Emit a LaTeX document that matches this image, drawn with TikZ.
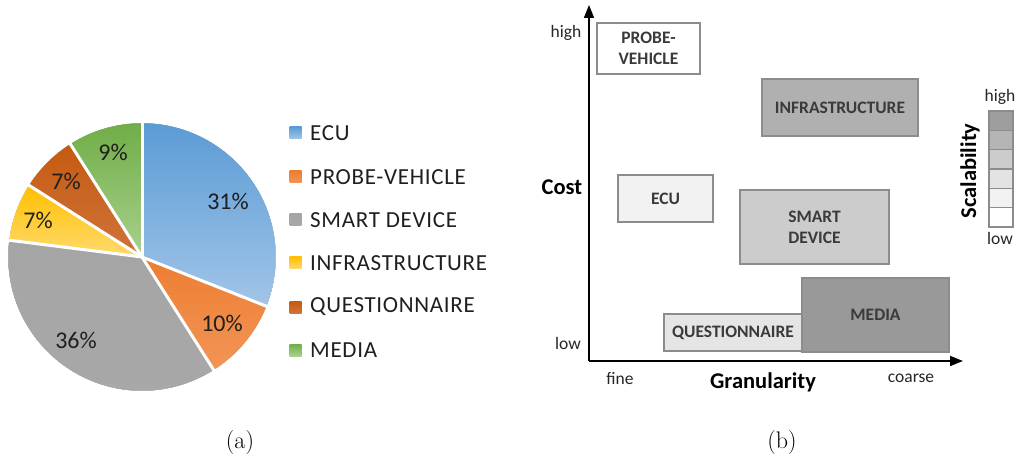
\documentclass[tikz,border=0pt]{standalone}
\usepackage{fontspec}
\newfontfamily\carfont{Carlito}
\usetikzlibrary{arrows.meta,positioning}
\definecolor{ecuA}{HTML}{5B9BD5}\definecolor{ecuB}{HTML}{A2C5E8}
\definecolor{prbA}{HTML}{ED7D31}\definecolor{prbB}{HTML}{F29557}
\definecolor{smtA}{HTML}{A5A5A5}\definecolor{smtB}{HTML}{A8A8A8}
\definecolor{infA}{HTML}{FFC000}\definecolor{infB}{HTML}{FFDA6E}
\definecolor{qstA}{HTML}{C55A11}\definecolor{qstB}{HTML}{D0743A}
\definecolor{medA}{HTML}{70AD47}\definecolor{medB}{HTML}{A9D18E}
\definecolor{boxline}{HTML}{8C8C8C}
\definecolor{boxtext}{HTML}{3A3A3A}
\tikzset{
  slice/.style={draw=white, line width=3pt, line join=round},
  pct/.style={font=\carfont\fontsize{24}{26}\selectfont, text=black!88},
  legtext/.style={font=\carfont\addfontfeature{LetterSpace=3}\fontsize{23}{26}\selectfont, text=black!88, anchor=west, inner sep=0pt},
  legbox/.style={minimum size=12pt, inner sep=0pt},
  cbox/.style={draw=boxline, line width=1.8pt, inner sep=0pt, align=center,
    font=\carfont\bfseries\fontsize{17.5}{21}\selectfont, text=boxtext},
  axlbl/.style={font=\carfont\fontsize{17.5}{20}\selectfont, text=black!85},
  axtitle/.style={font=\carfont\bfseries\fontsize{22.5}{24}\selectfont, text=black},
  scell/.style={draw=boxline, line width=1.3pt, minimum width=24pt, minimum height=19.33pt, inner sep=0pt, outer sep=0pt},
  captxt/.style={font=\fontsize{24}{28}\selectfont}
}
\begin{document}
\begin{tikzpicture}[x=1pt,y=1pt]
\useasboundingbox (0,0) rectangle (1015,-465);
% ---------- pie ----------
\coordinate (pc) at (142,-257);
\def\R{134}
\fill[top color=ecuA,bottom color=ecuB] (pc) -- ++(90:\R) arc[start angle=90,end angle=-21.6,radius=\R] -- cycle;
\fill[top color=prbA,bottom color=prbB] (pc) -- ++(-21.6:\R) arc[start angle=-21.6,end angle=-57.6,radius=\R] -- cycle;
\fill[top color=smtA,bottom color=smtB] (pc) -- ++(-57.6:\R) arc[start angle=-57.6,end angle=-187.2,radius=\R] -- cycle;
\fill[top color=infA,bottom color=infB] (pc) -- ++(-187.2:\R) arc[start angle=-187.2,end angle=-212.4,radius=\R] -- cycle;
\fill[top color=qstA,bottom color=qstB] (pc) -- ++(-212.4:\R) arc[start angle=-212.4,end angle=-237.6,radius=\R] -- cycle;
\fill[top color=medA,bottom color=medB] (pc) -- ++(-237.6:\R) arc[start angle=-237.6,end angle=-270,radius=\R] -- cycle;
\foreach \a in {90,-21.6,-57.6,-187.2,-212.4,-237.6}
  \draw[slice] (pc) -- ++(\a:\R+2);
\draw[white,line width=2pt] (pc) circle[radius=\R+1];
\node[pct] (p1) at (228,-201) {31\%};
\node[pct] (p2) at (222,-323) {10\%};
\node[pct] (p3) at (76,-340) {36\%};
\node[pct] (p4) at (38,-220) {7\%};
\node[pct] (p5) at (66,-181) {7\%};
\node[pct] (p6) at (113,-152) {9\%};
% ---------- legend ----------
\node[legbox,top color=ecuA,bottom color=ecuB] (l1) at (295.5,-133) {};
\node[legbox,top color=prbA,bottom color=prbB] (l2) at (295.5,-177) {};
\node[legbox,top color=smtA,bottom color=smtB] (l3) at (295.5,-220) {};
\node[legbox,top color=infA,bottom color=infB] (l4) at (295.5,-263) {};
\node[legbox,top color=qstA,bottom color=qstB] (l5) at (295.5,-307) {};
\node[legbox,top color=medA,bottom color=medB] (l6) at (295.5,-350) {};
\node[legtext] (t1) at (310,-133) {ECU};
\node[legtext] (t2) at (310,-177) {PROBE-VEHICLE};
\node[legtext] (t3) at (310,-220) {SMART DEVICE};
\node[legtext] (t4) at (310,-263) {INFRASTRUCTURE};
\node[legtext] (t5) at (310,-307) {QUESTIONNAIRE};
\node[legtext] (t6) at (310,-350) {MEDIA};
% ---------- cost / granularity chart ----------
\coordinate (O) at (589,-361);
\coordinate (ytip) at (589,-5);
\coordinate (xtip) at (963,-361);
\draw[line width=1.6pt,-{Triangle[length=13pt,width=10pt]}] (O) -- (ytip);
\draw[line width=1.6pt,-{Triangle[length=13pt,width=10pt]}] (O) -- (xtip);
\node[axlbl] (hi) at (566,-33) {high};
\node[axlbl] (lo) at (568,-343) {low};
\node[axtitle] (cost) at (562,-187) {Cost};
\node[axlbl] (fine) at (620,-379) {fine};
\node[axtitle] (gran) at (763,-382) {Granularity};
\node[axlbl] (coarse) at (911,-378) {coarse};
\node[cbox,fill=white,minimum width=103pt,minimum height=51pt] (probe) at (648.5,-48.5) {PROBE-\\VEHICLE};
\node[cbox,fill=black!31,minimum width=156pt,minimum height=57pt] (infra) at (840,-107.5) {INFRASTRUCTURE};
\node[cbox,fill=black!5,minimum width=95pt,minimum height=47pt] (ecu) at (665.5,-198.5) {ECU};
\node[cbox,fill=black!20,minimum width=149pt,minimum height=74pt] (smart) at (814.5,-227) {SMART\\DEVICE};
\node[cbox,fill=black!10,minimum width=138pt,minimum height=37pt] (quest) at (733,-332.5) {QUESTIONNAIRE};
\node[cbox,fill=black!40,minimum width=147pt,minimum height=74pt] (media) at (875.5,-315) {MEDIA};
% ---------- scalability scale ----------
\node[scell,fill=black!38] (s1) at (1001,-120.67) {};
\node[scell,fill=black!29,below=0pt of s1] (s2) {};
\node[scell,fill=black!20,below=0pt of s2] (s3) {};
\node[scell,fill=black!11,below=0pt of s3] (s4) {};
\node[scell,fill=black!5,below=0pt of s4] (s5) {};
\node[scell,fill=white,below=0pt of s5] (s6) {};
\node[axlbl] (shi) at (1000,-97) {high};
\node[axlbl] (slo) at (1000,-238) {low};
\node[axtitle,rotate=90] (scal) at (970,-171) {Scalability};
% ---------- captions ----------
\node[captxt] (ca) at (240,-443) {(a)};
\node[captxt] (cb) at (782,-443) {(b)};
\end{tikzpicture}
\end{document}
